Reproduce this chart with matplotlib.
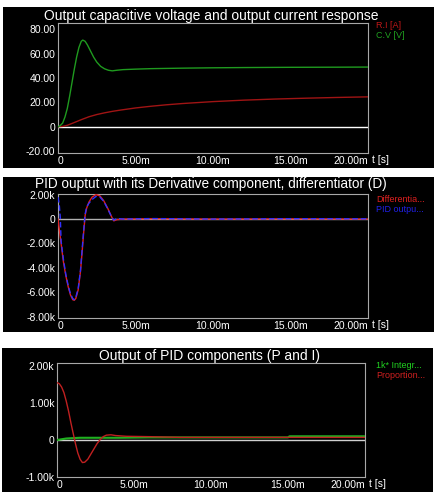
import matplotlib.pyplot as plt
from matplotlib.patches import Rectangle

plt.rcParams['font.family'] = ['Liberation Sans', 'DejaVu Sans']

W, H = 436, 492

# panel 1: output capacitive voltage (V) and current (A), time in ms
t_cv = [0, 0.1, 0.3, 0.45, 0.6, 0.75, 0.9, 1.05, 1.2, 1.35, 1.5, 1.6, 1.75, 1.9, 2.1,
        2.3, 2.5, 2.75, 3.0, 3.25, 3.5, 3.8, 4.2, 5, 6, 8, 10, 12, 15, 18, 20]
cv = [0, 0.5, 3, 8, 15, 25, 36, 47, 57, 65, 70, 71, 70, 67, 62,
      57, 53, 49.5, 47.5, 46.3, 45.8, 46.3, 46.8, 47.2, 47.6, 48.0, 48.3, 48.5, 48.7, 48.8, 48.9]
t_ri = [0, 0.3, 0.6, 1, 1.5, 2, 2.5, 3, 3.5, 4, 5, 6, 7, 8, 10, 12, 14, 16, 18, 20]
ri = [0, 0.3, 1.2, 3.2, 5.8, 8.2, 10.0, 11.4, 12.6, 13.6, 15.4, 16.8, 18.0, 19.0, 20.6,
      21.8, 22.7, 23.4, 24.0, 24.5]

# panel 2: differentiator and PID output
t_d = [0, 0.1, 0.2, 0.35, 0.5, 0.65, 0.8, 0.95, 1.05, 1.15, 1.3, 1.45, 1.55, 1.65, 1.75,
       1.85, 2.0, 2.2, 2.45, 2.7, 2.95, 3.2, 3.45, 3.6, 3.8, 4.2, 6, 10, 15, 20]
diff = [0, -1.0, -2.0, -3.5, -4.6, -5.5, -6.2, -6.6, -6.65, -6.5, -5.8, -4.3, -2.8, -1.2, 0.3,
        0.9, 1.4, 1.8, 2.0, 1.9, 1.5, 0.9, 0.2, -0.15, -0.05, 0, 0.03, 0, 0.02, 0]
t_pid = [0, 0.08, 0.15, 0.2, 0.35, 0.5, 0.65, 0.8, 0.95, 1.05, 1.15, 1.3, 1.45, 1.55, 1.65,
         1.75, 1.85, 2.0, 2.2, 2.45, 2.7, 2.95, 3.2, 3.45, 3.6, 3.8, 4.2, 6, 10, 15, 20]
pid = [1.8, 1.2, 0.1, -1.8, -3.3, -4.5, -5.4, -6.1, -6.5, -6.6, -6.4, -5.7, -4.2, -2.6, -1.0,
       0.4, 1.0, 1.3, 1.6, 1.85, 1.8, 1.45, 0.85, 0.2, -0.1, 0.05, 0, 0.04, 0, 0.03, 0.02]

# panel 3: proportional and integral (x1k) components
t_p = [0, 0.15, 0.3, 0.45, 0.6, 0.75, 0.9, 1.05, 1.2, 1.35, 1.5, 1.65, 1.8, 2.0, 2.2,
       2.4, 2.6, 2.8, 3.0, 3.2, 3.5, 3.8, 4.5, 6, 8, 12, 16, 20]
prop = [1.55, 1.52, 1.43, 1.28, 1.05, 0.78, 0.47, 0.18, -0.1, -0.35, -0.52, -0.61, -0.6, -0.52, -0.38,
        -0.24, -0.1, 0.01, 0.09, 0.13, 0.14, 0.12, 0.1, 0.09, 0.07, 0.07, 0.07, 0.07]
t_i = [0, 0.3, 0.6, 1.0, 1.5, 2, 3, 4, 6, 8, 10, 12, 15, 15.1, 18, 20]
integ = [0, 0.02, 0.04, 0.05, 0.06, 0.06, 0.06, 0.06, 0.07, 0.07, 0.07, 0.07, 0.07, 0.1, 0.1, 0.1]

x_ticks = [0, 5, 10, 15, 20]
x_labels = ['0', '5.00m', '10.00m', '15.00m', '20.00m']

fig = plt.figure(figsize=(W / 100, H / 100), dpi=100, facecolor='white')


def fx(px):
    return px / W


def fy(py):
    return 1 - py / H


def panel(bg, frame, title, ylim, yticks, ylabels, legend, zero_color):
    bx0, by0, bx1, by1 = bg
    fig.add_artist(Rectangle((fx(bx0), fy(by1)), fx(bx1) - fx(bx0), fy(by0) - fy(by1),
                             transform=fig.transFigure, facecolor='black',
                             edgecolor='none', zorder=0))
    x0, y0, x1, y1 = frame
    ax = fig.add_axes([fx(x0), fy(y1), fx(x1) - fx(x0), fy(y0) - fy(y1)])
    ax.set_facecolor('black')
    for s in ax.spines.values():
        s.set_color('#a8a8a8')
        s.set_linewidth(0.8)
    ax.set_xlim(0, 20)
    ax.set_ylim(*ylim)
    ax.set_xticks(x_ticks)
    ax.set_xticklabels(x_labels)
    ax.set_yticks(yticks)
    ax.set_yticklabels(ylabels)
    ax.tick_params(length=0, colors='white', labelsize=7.5, pad=2)
    ax.get_xticklabels()[-1].set_ha('right')
    ax.get_xticklabels()[0].set_ha('left')
    ax.axhline(0, color=zero_color, lw=1.0, zorder=1)
    # title sits just above the frame, baseline given in pixels
    title_txt, base, tsize = title
    fig.text(fx((x0 + x1) / 2 - 2), fy(base), title_txt, color='white', fontsize=tsize,
             ha='center', va='baseline')
    fig.text(fx(x1 + 4), fy(y1 + 2), 't [s]', color='white', fontsize=7.5,
             va='top', ha='left')
    for (name, col, ly) in legend:
        fig.text(fx(376), fy(ly), name, color=col, fontsize=6.5, va='center', ha='left')
    return ax


ax1 = panel((3, 7, 434, 168), (58, 23, 368, 153),
            ('Output capacitive voltage and output current response', 20, 10),
            (-21.5, 85), [-20, 0, 20, 40, 60, 80],
            ['-20.00', '0', '20.00', '40.00', '60.00', '80.00'],
            [('R.I [A]', '#c01818', 26), ('C.V [V]', '#20a020', 36)], 'white')
ax1.plot(t_ri, ri, color='#a01414', lw=1.0, zorder=3)
ax1.plot(t_cv, cv, color='#1f9a1f', lw=1.0, zorder=3)

ax2 = panel((3, 177, 434, 332), (58, 194, 368, 318),
            ('PID ouptut with its Derivative component, differentiator (D)', 188.5, 9.8),
            (-8.1, 2.05), [-8, -6, -4, -2, 0, 2],
            ['-8.00k', '-6.00k', '-4.00k', '-2.00k', '0', '2.00k'],
            [('Differentia...', '#e02020', 199), ('PID outpu...', '#2020e8', 209)], '#b0b0b0')
ax2.plot(t_d, diff, color='#e02020', lw=1.0, zorder=3)
ax2.plot(t_pid, pid, color='#3030ff', lw=1.0, ls=(0, (4, 2)), zorder=4)

ax3 = panel((2, 348, 433, 492), (57, 363, 365, 477),
            ('Output of PID components (P and I)', 360, 10),
            (-1.0, 2.08), [-1, 0, 1, 2], ['-1.00k', '0', '1.00k', '2.00k'],
            [('1k* Integr...', '#20d020', 366), ('Proportion...', '#d02020', 375)], '#d0d0d0')
ax3.plot(t_i, integ, color='#20b020', lw=1.5, zorder=3)
ax3.plot(t_p, prop, color='#c02020', lw=1.0, zorder=3)

fig.savefig('out.png', dpi=100, facecolor='white')
